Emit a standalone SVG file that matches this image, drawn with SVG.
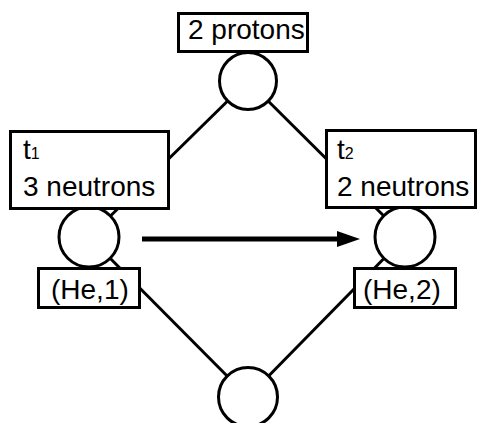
<svg xmlns="http://www.w3.org/2000/svg" width="479" height="423" viewBox="0 0 479 423">
<style>
.ln{stroke:#000;stroke-width:3;fill:none}
.pl{fill:#fff;stroke:#000;stroke-width:3}
.bx{fill:#fff;stroke:#000;stroke-width:3}
.tx{font-family:"Liberation Sans",Arial,sans-serif;font-size:28px;fill:#000}
.sb{font-size:16px}
</style>
<rect width="479" height="423" fill="#fff"/>
<g id="connectors">
<line class="ln" x1="248" y1="81" x2="89" y2="237"/>
<line class="ln" x1="248" y1="81" x2="405" y2="237"/>
<line class="ln" x1="248" y1="397" x2="89" y2="237"/>
<line class="ln" x1="248" y1="397" x2="405" y2="237"/>
<line x1="142" y1="239" x2="339" y2="239" stroke="#000" stroke-width="5"/>
<polygon points="337,231 360,239 337,247" fill="#000"/>
</g>
<g id="place-top">
<circle class="pl" cx="248" cy="81" r="28.5"/>
</g>
<g id="place-left">
<circle class="pl" cx="89" cy="237" r="30"/>
</g>
<g id="place-right">
<circle class="pl" cx="405" cy="237" r="30"/>
</g>
<g id="place-bottom">
<circle class="pl" cx="248" cy="397" r="29.5"/>
</g>
<g id="label-protons">
<rect class="bx" x="178.5" y="13.5" width="129" height="38"/>
<text class="tx" x="188" y="39">2 protons</text>
</g>
<g id="label-t1">
<rect class="bx" x="10.5" y="131.5" width="158" height="77"/>
<text class="tx" x="23" y="159">t<tspan class="sb">1</tspan></text>
<text class="tx" x="23" y="196">3 neutrons</text>
</g>
<g id="label-t2">
<rect class="bx" x="326.5" y="130.5" width="149" height="77"/>
<text class="tx" x="337" y="159">t<tspan class="sb">2</tspan></text>
<text class="tx" x="337" y="196">2 neutrons</text>
</g>
<g id="label-he1">
<rect class="bx" x="38.5" y="268.5" width="101" height="39"/>
<text class="tx" x="51" y="299">(He,1)</text>
</g>
<g id="label-he2">
<rect class="bx" x="354.5" y="268.5" width="101" height="39"/>
<text class="tx" x="363" y="299">(He,2)</text>
</g>
</svg>
